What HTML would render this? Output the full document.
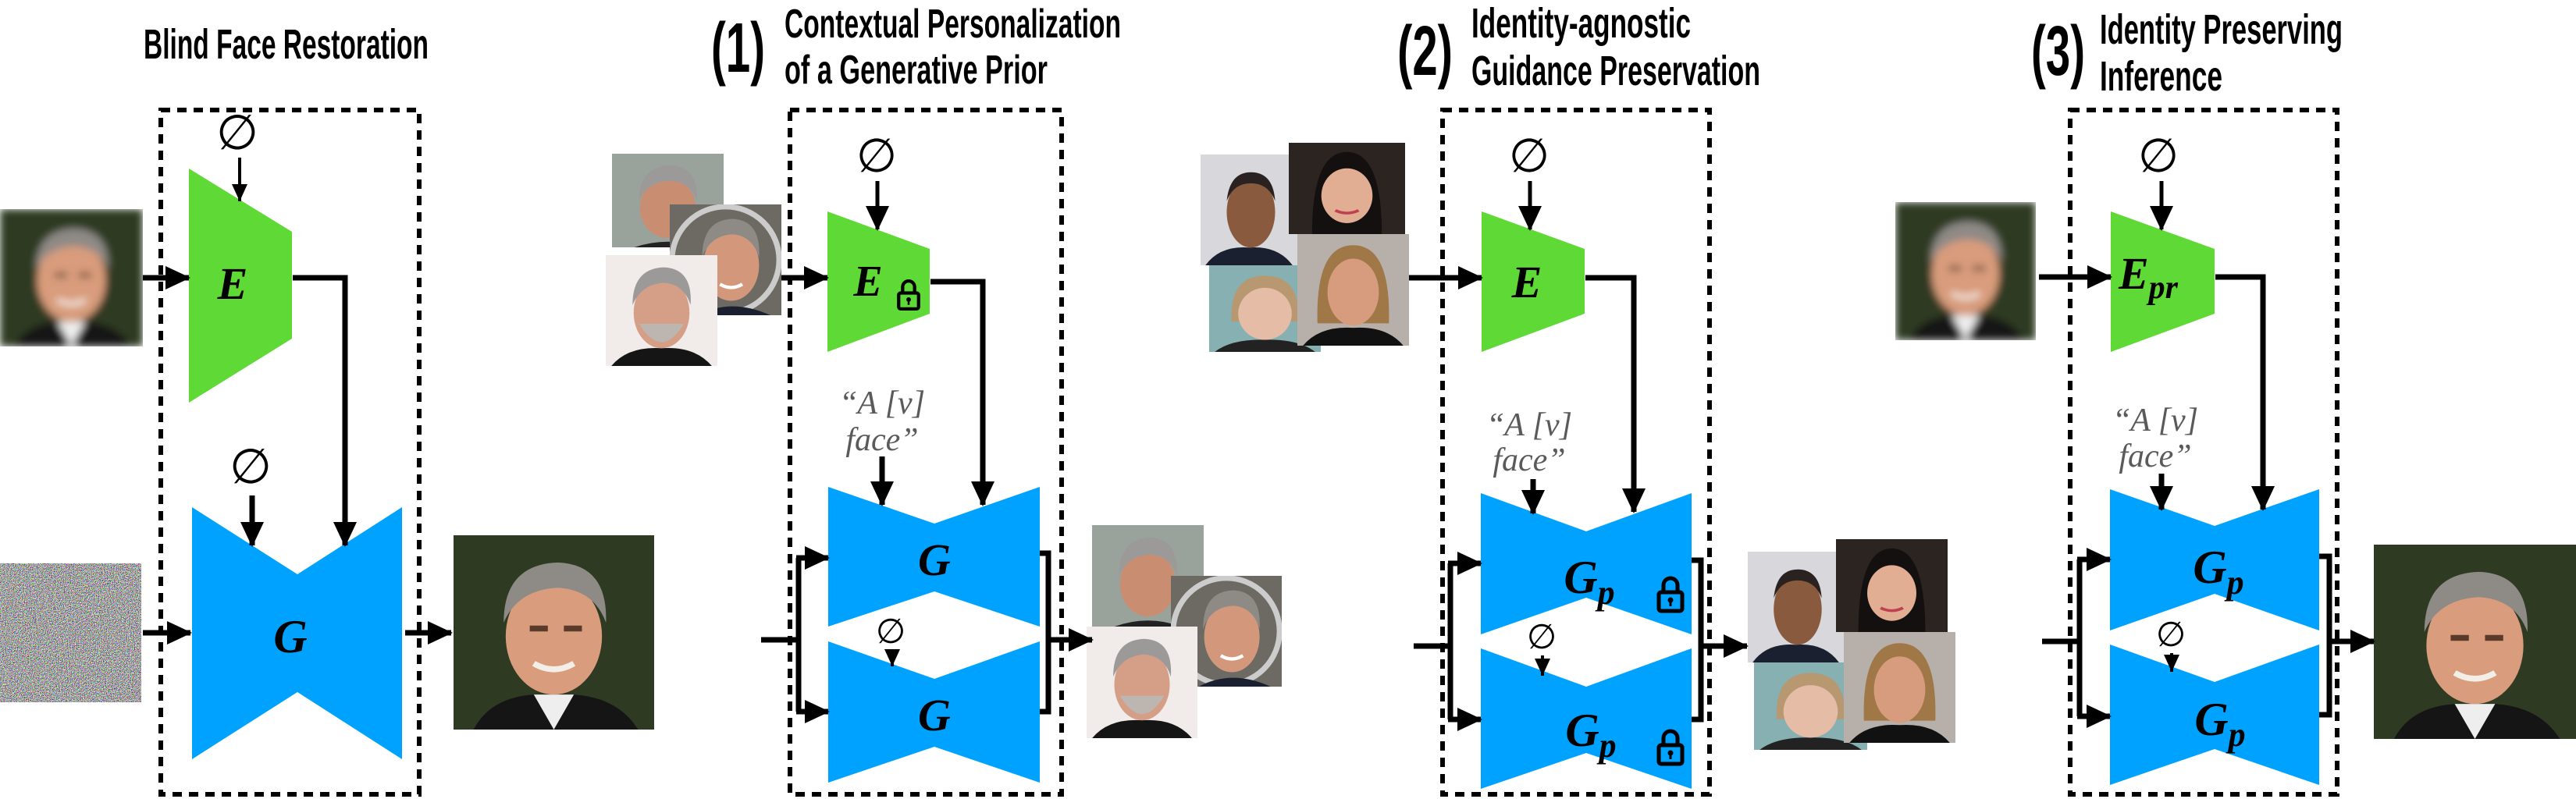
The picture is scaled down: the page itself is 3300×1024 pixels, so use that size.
<!DOCTYPE html>
<html><head><meta charset="utf-8"><style>html,body{margin:0;padding:0;background:#fff}svg{display:block}</style></head>
<body>
<svg xmlns="http://www.w3.org/2000/svg" width="3300" height="1024" viewBox="0 0 3300 1024">
<defs>
<marker id="ah" markerUnits="userSpaceOnUse" markerWidth="34" markerHeight="34" viewBox="0 0 34 34" refX="30" refY="17" orient="auto"><path d="M0,2 L32,17 L0,32 Z" fill="#000"/></marker>
<marker id="as" markerUnits="userSpaceOnUse" markerWidth="24" markerHeight="24" viewBox="0 0 24 24" refX="22" refY="12" orient="auto"><path d="M0,2 L22,12 L0,22 Z" fill="#000"/></marker>
<filter id="blur" x="0" y="0" width="1" height="1"><feGaussianBlur stdDeviation="5"/></filter>
<filter id="noise" x="0" y="0" width="1" height="1"><feTurbulence type="fractalNoise" baseFrequency="1.2" numOctaves="1" seed="3"/><feColorMatrix type="matrix" values="5 0 0 0 -2  0 5 0 0 -2  0 0 5 0 -2  0 0 0 0 1"/></filter>
<symbol id="clooney" viewBox="0 0 100 100" preserveAspectRatio="none">
<rect width="100" height="100" fill="#2e3a22"/>
<path d="M10,100 Q20,80 50,82 Q80,80 92,100 Z" fill="#151515"/>
<path d="M40,82 L50,100 L60,82 Z" fill="#eee"/>
<ellipse cx="50" cy="52" rx="24" ry="30" fill="#d99c7c"/>
<path d="M25,45 Q25,15 52,14 Q77,15 76,45 Q70,28 52,27 Q32,28 25,45 Z" fill="#8e8a86"/>
<path d="M38,48 h9 M55,48 h9" stroke="#5a3a2a" stroke-width="3"/>
<path d="M40,66 Q50,72 60,66" stroke="#f3eee8" stroke-width="3" fill="none"/>
</symbol>
<symbol id="cl2" viewBox="0 0 100 100" preserveAspectRatio="none">
<rect width="100" height="100" fill="#9aa39b"/>
<ellipse cx="50" cy="58" rx="25" ry="32" fill="#c98e72"/>
<path d="M24,50 Q24,14 52,12 Q78,14 76,50 Q70,30 52,29 Q32,30 24,50 Z" fill="#9c9a98"/>
<path d="M20,100 Q50,88 80,100Z" fill="#222"/>
</symbol>
<symbol id="cl3" viewBox="0 0 100 100" preserveAspectRatio="none">
<rect width="100" height="100" fill="#f1ecea"/>
<path d="M5,100 Q20,82 50,84 Q80,82 95,100 Z" fill="#151515"/>
<ellipse cx="50" cy="52" rx="25" ry="32" fill="#d59e86"/>
<path d="M30,62 Q50,95 70,62 Z" fill="#bdb6b0"/>
<path d="M24,45 Q24,12 52,11 Q78,12 76,45 Q70,26 52,25 Q32,26 24,45 Z" fill="#9c9a98"/>
</symbol>
<symbol id="cl4" viewBox="0 0 100 100" preserveAspectRatio="none">
<rect width="100" height="100" fill="#6c6a62"/>
<circle cx="50" cy="50" r="48" fill="none" stroke="#ccc" stroke-width="5"/>
<ellipse cx="55" cy="55" rx="25" ry="32" fill="#d3987c"/>
<path d="M29,48 Q29,14 56,13 Q82,14 80,48 Q74,28 56,27 Q36,28 29,48 Z" fill="#8e8a86"/>
<path d="M25,100 Q55,84 90,100Z" fill="#1b2030"/>
<path d="M45,72 Q55,78 65,72" stroke="#fff" stroke-width="3" fill="none"/>
</symbol>
<symbol id="obama" viewBox="0 0 100 100" preserveAspectRatio="none">
<rect width="100" height="100" fill="#d8d8dc"/>
<path d="M5,100 Q20,82 50,84 Q80,82 95,100 Z" fill="#1a2030"/>
<ellipse cx="52" cy="52" rx="25" ry="32" fill="#8a5a3e"/>
<path d="M27,42 Q30,16 52,16 Q75,16 77,42 Q70,26 52,26 Q34,26 27,42Z" fill="#2a2220"/>
</symbol>
<symbol id="lucy" viewBox="0 0 100 100" preserveAspectRatio="none">
<rect width="100" height="100" fill="#2c2420"/>
<path d="M20,100 Q20,10 50,10 Q80,10 80,100Z" fill="#151010"/>
<ellipse cx="50" cy="58" rx="22" ry="30" fill="#e1ae94"/>
<path d="M40,74 Q50,80 60,74" stroke="#c04050" stroke-width="3" fill="none"/>
</symbol>
<symbol id="merkel" viewBox="0 0 100 100" preserveAspectRatio="none">
<rect width="100" height="100" fill="#86b0b2"/>
<path d="M5,100 Q20,85 50,86 Q80,85 95,100 Z" fill="#222"/>
<path d="M20,65 Q18,12 50,12 Q82,12 80,65Z" fill="#b89870"/>
<ellipse cx="50" cy="56" rx="24" ry="30" fill="#e5bca6"/>
</symbol>
<symbol id="pitt" viewBox="0 0 100 100" preserveAspectRatio="none">
<rect width="100" height="100" fill="#b7b0aa"/>
<path d="M5,100 Q20,82 50,84 Q80,82 95,100 Z" fill="#111"/>
<path d="M18,80 Q16,10 50,10 Q84,10 82,80Z" fill="#a07848"/>
<ellipse cx="50" cy="52" rx="23" ry="30" fill="#d79c7e"/>
</symbol>
<g id="lock"><path d="M-9,-2 V-12 A9,9 0 0 1 9,-12 V-2" fill="none" stroke="#000" stroke-width="5"/><rect x="-15" y="-3" width="30" height="24" rx="3" fill="none" stroke="#000" stroke-width="5"/><circle cx="0" cy="7" r="3.5" fill="#000"/><rect x="-1.5" y="8" width="3" height="7" fill="#000"/></g>
</defs>

<g font-family="'Liberation Sans', 'DejaVu Sans', sans-serif" font-weight="bold" fill="#000">
<text x="184" y="75" font-size="54" textLength="365" lengthAdjust="spacingAndGlyphs">Blind Face Restoration</text>
<text x="911" y="92" font-size="90" textLength="69" lengthAdjust="spacingAndGlyphs">(1)</text>
<text x="1005" y="48" font-size="52" textLength="431" lengthAdjust="spacingAndGlyphs">Contextual Personalization</text>
<text x="1005" y="107" font-size="52" textLength="337" lengthAdjust="spacingAndGlyphs">of a Generative Prior</text>
<text x="1790" y="96" font-size="90" textLength="71" lengthAdjust="spacingAndGlyphs">(2)</text>
<text x="1885" y="48" font-size="54" textLength="281" lengthAdjust="spacingAndGlyphs">Identity-agnostic</text>
<text x="1885" y="109" font-size="54" textLength="370" lengthAdjust="spacingAndGlyphs">Guidance Preservation</text>
<text x="2602" y="96" font-size="90" textLength="69" lengthAdjust="spacingAndGlyphs">(3)</text>
<text x="2690" y="56" font-size="54" textLength="311" lengthAdjust="spacingAndGlyphs">Identity Preserving</text>
<text x="2690" y="116" font-size="54" textLength="157" lengthAdjust="spacingAndGlyphs">Inference</text>
</g>

<g fill="none" stroke="#000" stroke-width="6" stroke-dasharray="12 9">
<rect x="206" y="141" width="331" height="877"/>
<rect x="1012" y="141" width="348" height="877"/>
<rect x="1848" y="141" width="342" height="877"/>
<rect x="2652" y="141" width="342" height="877"/>
</g>

<use href="#clooney" x="0" y="268" width="183" height="176" filter="url(#blur)"/>
<rect x="0" y="722" width="181" height="178" fill="#888" filter="url(#noise)"/>
<use href="#clooney" x="581" y="686" width="257" height="249"/>
<use href="#cl2" x="784" y="197" width="143" height="120"/>
<use href="#cl4" x="858" y="262" width="143" height="142"/>
<use href="#cl3" x="776" y="327" width="143" height="142"/>
<use href="#cl2" x="1399" y="673" width="143" height="130"/>
<use href="#cl4" x="1500" y="738" width="142" height="142"/>
<use href="#cl3" x="1392" y="803" width="142" height="143"/>
<use href="#obama" x="1538" y="198" width="124" height="142"/>
<use href="#lucy" x="1651" y="183" width="149" height="117"/>
<use href="#merkel" x="1549" y="340" width="143" height="111"/>
<use href="#pitt" x="1662" y="300" width="143" height="143"/>
<use href="#obama" x="2239" y="707" width="123" height="142"/>
<use href="#lucy" x="2352" y="691" width="143" height="119"/>
<use href="#merkel" x="2247" y="849" width="145" height="112"/>
<use href="#pitt" x="2362" y="810" width="143" height="142"/>
<use href="#clooney" x="2428" y="259" width="180" height="177" filter="url(#blur)"/>
<use href="#clooney" x="3041" y="698" width="259" height="249"/>

<g fill="#5fd935">
<polygon points="242,216 374,297 374,434 242,516"/>
<polygon points="1060,271 1191,319 1191,402 1060,451"/>
<polygon points="1898,271 2030,319 2030,402 1898,451"/>
<polygon points="2704,271 2837,319 2837,402 2704,451"/>
</g>
<g fill="#00a2ff">
<polygon points="246,650 381,736 515,650 515,973 381,887 246,973"/>
<polygon points="1061,624 1197,671 1332,624 1332,803 1197,758 1061,803"/>
<polygon points="1061,822 1197,870 1332,822 1332,1003 1197,957 1061,1003"/>
<polygon points="1897,632 2032,681 2167,632 2167,813 2032,766 1897,813"/>
<polygon points="1897,831 2032,880 2167,831 2167,1011 2032,965 1897,1011"/>
<polygon points="2703,627 2837,674 2971,627 2971,808 2837,761 2703,808"/>
<polygon points="2703,826 2837,874 2971,826 2971,1006 2837,960 2703,1006"/>
</g>

<g font-family="'Liberation Serif','DejaVu Serif',serif" font-style="italic" font-weight="bold" fill="#000" text-anchor="middle">
<text x="298" y="383" font-size="58">E</text>
<text x="372" y="836" font-size="60">G</text>
<text x="1112" y="379" font-size="56">E</text>
<text x="1197" y="737" font-size="58">G</text>
<text x="1197" y="936" font-size="58">G</text>
<text x="1956" y="381" font-size="58">E</text>
<text x="2036" y="760" font-size="60">G<tspan font-size="44" dy="14">p</tspan></text>
<text x="2038" y="956" font-size="60">G<tspan font-size="44" dy="14">p</tspan></text>
<text x="2752" y="370" font-size="58">E<tspan font-size="42" dy="12">pr</tspan></text>
<text x="2842" y="747" font-size="60">G<tspan font-size="44" dy="14">p</tspan></text>
<text x="2844" y="942" font-size="60">G<tspan font-size="44" dy="14">p</tspan></text>
</g>

<g font-family="'DejaVu Serif','DejaVu Sans',serif" font-style="italic" fill="#000" text-anchor="middle">
<text x="304" y="191" font-size="62">∅</text>
<text x="321" y="619" font-size="62">∅</text>
<text x="1123" y="220" font-size="60">∅</text>
<text x="1141" y="824" font-size="44">∅</text>
<text x="1959" y="220" font-size="60">∅</text>
<text x="1975" y="831" font-size="44">∅</text>
<text x="2765" y="220" font-size="60">∅</text>
<text x="2781" y="828" font-size="44">∅</text>
</g>

<g font-family="'Liberation Serif','DejaVu Serif',serif" font-style="italic" fill="#5a5a5a" text-anchor="middle" font-size="42">
<text x="1130" y="530">“A [v]</text><text x="1130" y="577">face”</text>
<text x="1959" y="558">“A [v]</text><text x="1959" y="603">face”</text>
<text x="2761" y="552">“A [v]</text><text x="2761" y="598">face”</text>
</g>

<use href="#lock" transform="translate(1164,378) scale(0.85)"/>
<use href="#lock" transform="translate(2140,762)"/>
<use href="#lock" transform="translate(2140,958)"/>

<g fill="none" stroke="#000" stroke-width="7" marker-end="url(#ah)">
<line x1="307" y1="202" x2="307" y2="258" stroke-width="4" marker-end="url(#as)"/>
<line x1="183" y1="356" x2="242" y2="356"/>
<polyline points="375,356 442,356 442,699"/>
<line x1="323" y1="635" x2="323" y2="699"/>
<line x1="183" y1="811" x2="244" y2="811"/>
<line x1="519" y1="811" x2="578" y2="811"/>
<line x1="1124" y1="232" x2="1124" y2="294" stroke-width="5"/>
<line x1="1001" y1="356" x2="1060" y2="356"/>
<polyline points="1192,361 1259,361 1259,647"/>
<line x1="1130" y1="585" x2="1130" y2="647"/>
<polyline points="975,820 1023,820" marker-end="none"/>
<polyline points="1023,715 1023,912" marker-end="none"/>
<line x1="1020" y1="715" x2="1061" y2="715"/>
<line x1="1020" y1="912" x2="1061" y2="912"/>
<polyline points="1332,709 1343,709 1343,912 1332,912" marker-end="none"/>
<line x1="1343" y1="820" x2="1399" y2="820"/>
<line x1="1143" y1="834" x2="1143" y2="854" stroke-width="4" marker-end="url(#as)"/>
<line x1="1960" y1="232" x2="1960" y2="294" stroke-width="5"/>
<line x1="1805" y1="356" x2="1898" y2="356"/>
<polyline points="2031,356 2093,356 2093,656"/>
<line x1="1964" y1="614" x2="1964" y2="658"/>
<polyline points="1811,828 1858,828" marker-end="none"/>
<polyline points="1858,722 1858,922" marker-end="none"/>
<line x1="1855" y1="722" x2="1897" y2="722"/>
<line x1="1855" y1="922" x2="1897" y2="922"/>
<polyline points="2167,718 2179,718 2179,922 2167,922" marker-end="none"/>
<line x1="2179" y1="828" x2="2238" y2="828"/>
<line x1="1976" y1="840" x2="1976" y2="866" stroke-width="4" marker-end="url(#as)"/>
<line x1="2769" y1="232" x2="2769" y2="294" stroke-width="5"/>
<line x1="2612" y1="355" x2="2704" y2="355"/>
<polyline points="2838,355 2899,355 2899,653"/>
<line x1="2769" y1="607" x2="2769" y2="653"/>
<polyline points="2616,822 2664,822" marker-end="none"/>
<polyline points="2664,717 2664,918" marker-end="none"/>
<line x1="2661" y1="717" x2="2703" y2="717"/>
<line x1="2661" y1="918" x2="2703" y2="918"/>
<polyline points="2971,713 2984,713 2984,916 2971,916" marker-end="none"/>
<line x1="2984" y1="822" x2="3041" y2="822"/>
<line x1="2782" y1="837" x2="2782" y2="861" stroke-width="4" marker-end="url(#as)"/>
</g>
</svg>
</body></html>
